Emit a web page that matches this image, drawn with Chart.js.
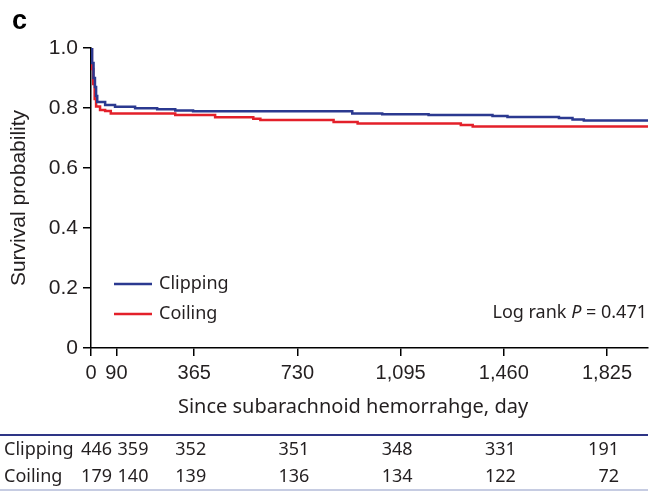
<!DOCTYPE html>
<html>
<head>
<meta charset="utf-8">
<script src="https://cdn.jsdelivr.net/npm/chart.js@4.4.1/dist/chart.umd.min.js"></script>
<style>
  html, body { margin: 0; padding: 0; background: #fff; }
</style>
</head>
<body>
<canvas id="kmChart" width="651" height="493"></canvas>
<script>
// Kaplan-Meier steps (day -> survival probability)
const clippingDays = [0, 4, 9, 14, 18, 22, 50, 85, 156, 234, 298, 361, 924, 1030, 1194, 1420, 1473, 1655, 1703, 1743, 1970]
const clippingSurv = [1.0, 0.95, 0.90, 0.87, 0.84, 0.82, 0.81, 0.804, 0.799, 0.796, 0.792, 0.789, 0.782, 0.779, 0.777, 0.773, 0.77, 0.767, 0.762, 0.758, 0.758]
const coilingDays = [0, 3, 8, 13, 18, 32, 50, 70, 298, 439, 574, 599, 858, 943, 1308, 1350, 1970]
const coilingSurv = [1.0, 0.93, 0.88, 0.83, 0.805, 0.793, 0.79, 0.782, 0.777, 0.769, 0.764, 0.76, 0.753, 0.748, 0.743, 0.738, 0.738]

const xTicks = [0, 90, 365, 730, 1095, 1460, 1825]
const yTicks = [0, 0.2, 0.4, 0.6, 0.8, 1.0]

// numbers at risk
const riskGroups = ['Clipping', 'Coiling']
const riskClipping = [446, 359, 352, 351, 348, 331, 191]
const riskCoiling = [179, 140, 139, 136, 134, 122, 72]

const xTitle = 'Since subarachnoid hemorrahge, day'
const logRankP = '0.471'
const panelLetter = 'c'

const blue = '#2b3990'
const red = '#e3202a'
const textColor = '#231f20'

function toPoints(days, surv) {
    return days.map((d, i) => ({ x: d, y: surv[i] }))
}

const overlayPlugin = {
    id: 'overlay',
    afterDraw(chart) {
        const ctx = chart.ctx
        const xs = chart.scales.x
        ctx.save()

        // panel letter
        ctx.fillStyle = '#000'
        ctx.font = 'bold 27px "Liberation Sans", Arial, sans-serif'
        ctx.textBaseline = 'alphabetic'
        ctx.textAlign = 'left'
        ctx.fillText(panelLetter, 12, 29)

        // x axis title (sits a bit left of the plot centre in the original)
        ctx.font = '20px "Noto Sans", sans-serif'
        ctx.fillStyle = textColor
        ctx.textAlign = 'center'
        ctx.textBaseline = 'middle'
        ctx.fillText(xTitle, 353, 407)
        ctx.textAlign = 'left'

        // legend inside the plot
        ctx.font = '18px "Noto Sans", sans-serif'
        chart.data.datasets.forEach((ds, i) => {
            const y = 284 + i * 30
            ctx.strokeStyle = ds.borderColor
            ctx.lineWidth = 2.5
            ctx.beginPath()
            ctx.moveTo(114, y)
            ctx.lineTo(152, y)
            ctx.stroke()
            ctx.fillStyle = textColor
            ctx.fillText(ds.label, 159, y)
        })

        // log rank text, right aligned
        const parts = [
            { t: 'Log rank ', f: '18px "Noto Sans", sans-serif' },
            { t: 'P', f: 'italic 18px "Noto Sans", sans-serif' },
            { t: ' = ' + logRankP, f: '18px "Noto Sans", sans-serif' }
        ]
        let total = 0
        parts.forEach(p => { ctx.font = p.f; p.w = ctx.measureText(p.t).width; total += p.w })
        let px = 647 - total
        ctx.fillStyle = textColor
        parts.forEach(p => { ctx.font = p.f; ctx.fillText(p.t, px, 313); px += p.w })

        // number at risk table
        ctx.strokeStyle = '#2e3586'
        ctx.lineWidth = 2
        ctx.beginPath(); ctx.moveTo(0, 435); ctx.lineTo(648, 435); ctx.stroke()
        ctx.strokeStyle = '#b3bbd8'
        ctx.lineWidth = 1.5
        ctx.beginPath(); ctx.moveTo(0, 490); ctx.lineTo(648, 490); ctx.stroke()

        const nudge = [9, 20, 0, 0, 0, 0, 0]
        const rows = [riskClipping, riskCoiling]
        ctx.font = '18px "Noto Sans", sans-serif'
        ctx.fillStyle = textColor
        rows.forEach((row, r) => {
            const y = 450 + r * 27
            ctx.textAlign = 'left'
            ctx.fillText(riskGroups[r], 4, y)
            ctx.textAlign = 'right'
            row.forEach((n, i) => {
                ctx.fillText(String(n), xs.getPixelForValue(xTicks[i]) + 12 + nudge[i], y)
            })
        })
        ctx.restore()
    }
}

const ctx = document.getElementById('kmChart')
const kmChart = new Chart(ctx, {
    type: 'line',
    data: {
        datasets: [
            {
                label: 'Clipping',
                data: toPoints(clippingDays, clippingSurv),
                borderColor: blue,
                backgroundColor: blue,
                borderWidth: 2.5,
                pointRadius: 0,
                stepped: 'before',
                fill: false
            },
            {
                label: 'Coiling',
                data: toPoints(coilingDays, coilingSurv),
                borderColor: red,
                backgroundColor: red,
                borderWidth: 2.5,
                pointRadius: 0,
                stepped: 'before',
                fill: false
            }
        ]
    },
    options: {
        responsive: false,
        animation: false,
        devicePixelRatio: 1,
        layout: { padding: { left: 0, right: 3, top: 48, bottom: 0 } },
        plugins: {
            legend: { display: false },
            title: { display: false },
            tooltip: { enabled: false }
        },
        scales: {
            x: {
                type: 'linear',
                min: 0,
                max: 1970,
                afterBuildTicks: (s) => { s.ticks = xTicks.map(v => ({ value: v })) },
                afterFit: (s) => { s.height = 145 },
                grid: { drawOnChartArea: false, drawTicks: true, tickLength: 8, color: '#000', lineWidth: 1.5 },
                border: { color: '#000', width: 1.5 },
                ticks: {
                    color: textColor,
                    padding: 5,
                    maxRotation: 0,
                    autoSkip: false,
                    font: { family: '"Liberation Sans", Arial, sans-serif', size: 20 },
                    callback: (v) => v.toLocaleString('en-US')
                }
            },
            y: {
                min: 0,
                max: 1,
                afterBuildTicks: (s) => { s.ticks = yTicks.map(v => ({ value: v })) },
                afterFit: (s) => { s.width = 91 },
                grid: { drawOnChartArea: false, drawTicks: true, tickLength: 8, color: '#000', lineWidth: 1.5 },
                border: { color: '#000', width: 1.5 },
                ticks: {
                    color: textColor,
                    padding: 5,
                    font: { family: '"Liberation Sans", Arial, sans-serif', size: 21 },
                    callback: (v) => v === 0 ? '0' : v.toFixed(1)
                },
                title: {
                    display: true,
                    text: 'Survival probability',
                    color: textColor,
                    font: { family: '"Liberation Sans", Arial, sans-serif', size: 21 },
                    padding: { top: 7, bottom: 0 }
                }
            }
        }
    },
    plugins: [overlayPlugin]
})
</script>
</body>
</html>
